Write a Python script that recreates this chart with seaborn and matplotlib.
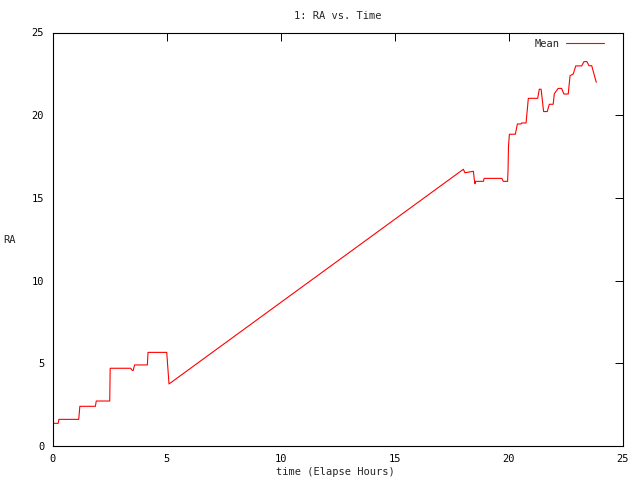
import numpy as np
import pandas as pd
import matplotlib
matplotlib.use("Agg")
import matplotlib.pyplot as plt
import seaborn as sns

# values (time in elapsed hours, mean RA)
hours = [
    0.0, 0.25, 0.28, 1.15, 1.20, 1.88, 1.92, 2.51, 2.53, 3.43, 3.50, 3.54,
    3.60, 4.16, 4.19, 5.01, 5.11,
    18.02, 18.09, 18.46, 18.50, 18.53, 18.56, 18.90, 18.93, 19.71, 19.77,
    19.96, 19.98, 20.00, 20.04, 20.30, 20.39, 20.55, 20.58, 20.77, 20.87,
    21.28, 21.35, 21.43, 21.54, 21.70, 21.79, 21.96, 22.01, 22.18, 22.33,
    22.43, 22.62, 22.70, 22.84, 22.95, 23.21, 23.31, 23.44, 23.53, 23.65,
    23.85,
]
ra_mean = [
    1.37, 1.37, 1.61, 1.61, 2.40, 2.40, 2.72, 2.72, 4.70, 4.70, 4.57, 4.57,
    4.90, 4.90, 5.66, 5.66, 3.75,
    16.73, 16.52, 16.61, 16.10, 15.86, 16.00, 16.00, 16.18, 16.18, 16.00,
    16.00, 16.69, 18.14, 18.85, 18.85, 19.47, 19.47, 19.53, 19.53, 21.02,
    21.02, 21.57, 21.57, 20.22, 20.22, 20.66, 20.66, 21.30, 21.62, 21.62,
    21.28, 21.28, 22.39, 22.49, 22.98, 22.98, 23.24, 23.24, 22.99, 22.99,
    21.99,
]

x_ticks = [0, 5, 10, 15, 20, 25]
y_ticks = [0, 5, 10, 15, 20, 25]

df = pd.DataFrame({"hours": hours, "RA": ra_mean})

sns.set_style("white")
plt.rcParams["font.family"] = ["DejaVu Sans Mono", "DejaVu Sans"]

fig = plt.figure(figsize=(6.4, 4.8), dpi=100)
ax = fig.add_axes([52.5 / 640, 1 - 446 / 480, 570 / 640, 413.5 / 480])

sns.lineplot(data=df, x="hours", y="RA", sort=False, estimator=None,
             color="#ff0000", lw=0.8, label="Mean", ax=ax)

ax.set_xlim(0, 25)
ax.set_ylim(0, 25)
ax.set_xticks(x_ticks)
ax.set_yticks(y_ticks)
ax.tick_params(direction="in", length=6, width=0.7, top=True, right=True,
               labelsize=7.5, colors="black", pad=6)
for s in ax.spines.values():
    s.set_linewidth(0.8)
    s.set_color("black")

ax.set_xlabel("time (Elapse Hours)", fontsize=7.5, va="center")
ax.xaxis.set_label_coords(0.497, -0.063)
ax.set_ylabel("RA", fontsize=7.5, rotation=0, va="center", ha="center")
ax.yaxis.set_label_coords(-0.0746, 0.498)
ax.set_title("1: RA vs. Time", fontsize=7.5, pad=9.5)

ax.legend(loc="upper right", frameon=False, markerfirst=False, fontsize=7.5,
          handlelength=3.6, borderaxespad=0, handletextpad=0.6,
          bbox_to_anchor=(1 - 14.5 / 570, 1 - 2 / 413.5))

fig.savefig("out.png", dpi=100)
